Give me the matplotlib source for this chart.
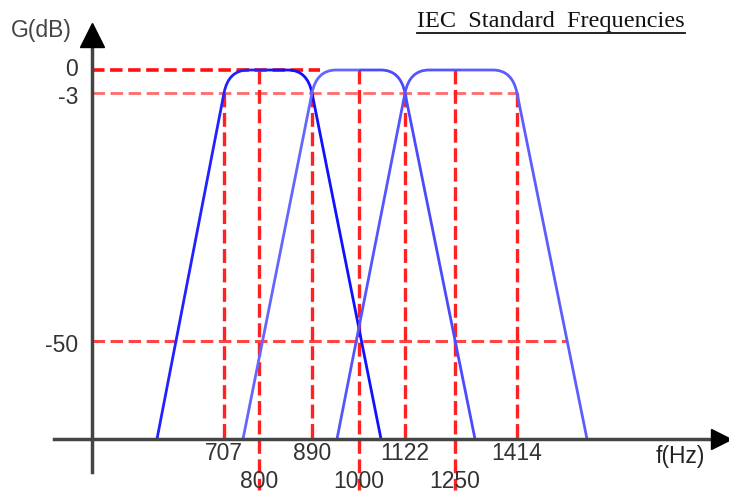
import matplotlib
matplotlib.use("Agg")
import matplotlib.pyplot as plt
from matplotlib.path import Path
from matplotlib.patches import PathPatch

# schematic coordinates: x measured from the G axis, y measured up from the f axis
freq_labels = ['707', '800', '890', '1000', '1122', '1250', '1414']
freq_pos = [132, 167, 220, 267, 313, 363, 425]
freq_row = [0, 1, 0, 1, 0, 1, 0]          # 0 = first row under axis, 1 = second row
freq_top = ['-3', '0', '-3', '0', '-3', '0', '-3']   # level where the marker line starts

level_labels = ['0', '-3', '-50']
level_pos = [369, 346, 98]
level_end = [228, 426, 475]

# three band filters (centre 800, 1000, 1250)
filt_bottom_left = [65, 151, 245]
filt_3db_left = [132, 220, 313]
filt_3db_right = [220, 313, 425]
filt_bottom_right = [289, 383, 495]
filt_left_color = ['#2222ff', '#6666ff', '#5555ff']
filt_right_color = ['#1111ff', '#4a4aff', '#5c5cff']

plt.rcParams['font.family'] = ['Liberation Sans', 'DejaVu Sans']
plt.rcParams['lines.scale_dashes'] = False

fig = plt.figure(figsize=(7.29, 4.92), dpi=100)
ax = fig.add_axes([0, 0, 1, 1])
ax.set_xlim(-92, 637)
ax.set_ylim(-53, 439)
ax.axis('off')

lev = dict(zip(level_labels, level_pos))
y0, y3 = lev['0'], lev['-3']

# red dashed level lines
hcolors = ['#ff1010', '#ff6a6a', '#ff4545']
hwidths = [2.6, 2.0, 2.2]
for y, xe, c, w in zip(level_pos, level_end, hcolors, hwidths):
    ax.plot([0, xe], [y, y], color=c, lw=w, dashes=(9, 4), zorder=2)

# red dashed frequency lines
for x, row, top in zip(freq_pos, freq_row, freq_top):
    ybot = -51 if row == 1 else 0
    ax.plot([x, x], [lev[top], ybot], color='#ff2222', lw=2.4, dashes=(10, 4), zorder=2)

# filters
r = 24
for lb, l3, r3, rb, cl, cr in zip(filt_bottom_left, filt_3db_left, filt_3db_right,
                                  filt_bottom_right, filt_left_color, filt_right_color):
    kl = (l3 - lb) / y3 * (y0 - y3)
    kr = (rb - r3) / y3 * (y0 - y3)
    mid = (l3 + r3) / 2
    left = Path([(lb, 0), (l3, y3), (l3 + kl, y0), (l3 + r, y0), (mid, y0)],
                [Path.MOVETO, Path.LINETO, Path.CURVE3, Path.CURVE3, Path.LINETO])
    right = Path([(mid, y0), (r3 - r, y0), (r3 - kr, y0), (r3, y3), (rb, 0)],
                 [Path.MOVETO, Path.LINETO, Path.CURVE3, Path.CURVE3, Path.LINETO])
    ax.add_patch(PathPatch(left, fill=False, ec=cl, lw=2.0, zorder=3))
    ax.add_patch(PathPatch(right, fill=False, ec=cr, lw=2.0, zorder=3))

# axes with arrows
ax.plot([0, 0], [-33, 394], color='#444444', lw=2.5, zorder=4)
ax.plot([-38, 623], [0, 0], color='#444444', lw=2.5, zorder=4)
ax.plot([0], [404], marker='^', ms=17, color='black', zorder=5)
ax.plot([629], [0], marker='>', ms=15, color='black', zorder=5)

# tick texts
for x, lab, row in zip(freq_pos, freq_labels, freq_row):
    ax.text(x, -14 if row == 0 else -42, lab, ha='center', va='center',
            fontsize=16.5, color='#333333')
for y, lab in zip(level_pos, level_labels):
    ax.text(-14, y if lab == '0' else y - 5, lab, ha='right', va='center',
            fontsize=16.5, color='#333333')

ax.text(-51, 408, 'G(dB)', ha='center', va='center', fontsize=16.5, color='#444444')
ax.text(588, -17, 'f(Hz)', ha='center', va='center', fontsize=16.5, color='#222222')

title = ax.text(459, 418, 'IEC  Standard  Frequencies', ha='center', va='center',
                fontsize=17.5, family='Liberation Serif', color='#111111')
fig.canvas.draw()
bb = title.get_window_extent().transformed(ax.transData.inverted())
ax.plot([bb.x0, bb.x1], [406, 406], color='#111111', lw=1.3)

fig.savefig('out.png', dpi=100)
